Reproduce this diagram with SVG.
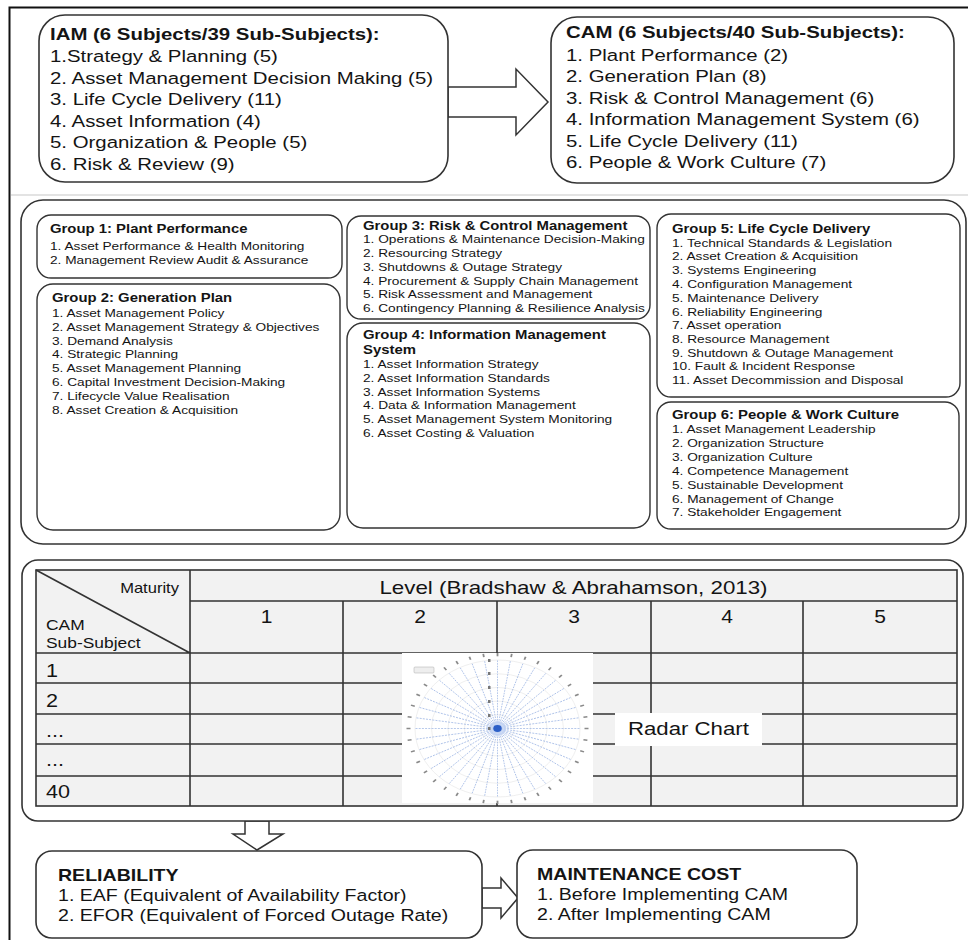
<svg xmlns="http://www.w3.org/2000/svg" width="968" height="940" viewBox="0 0 968 940">
<style>
.f{font-family:"Liberation Sans",Arial,Helvetica,sans-serif;fill:#141414}
.box{fill:#fff;stroke:#333;stroke-width:1.6}
.grp{fill:#fff;stroke:#333;stroke-width:1.4}
.top{font-size:17px}
.gt{font-size:12.4px;font-weight:bold}
.gi{font-size:11.4px}
.bt{font-size:16.3px}
.b{font-weight:bold}
.tl{stroke:#333;stroke-width:1.6;fill:none}
.cell{fill:#f2f2f2}
.arr{fill:#fff;stroke:#333;stroke-width:1.5}
.spoke{stroke:#8eaae0;stroke-width:0.7;stroke-dasharray:2 1.2}
.ring{fill:none;stroke:#e2e2e2;stroke-width:0.6}
</style>
<defs>
<g id="spk"><line class="spoke" x1="0" y1="0" x2="82.5" y2="0"/><rect x="87" y="-0.9" width="4" height="1.8" fill="#8a8a8a"/></g>
</defs>
<rect x="0" y="0" width="968" height="940" fill="#fff"/>
<path d="M9.5 945 V7.5 H968" fill="none" stroke="#111" stroke-width="2"/>
<line x1="11" y1="195" x2="968" y2="195" stroke="#c8c8c8" stroke-width="1.2"/>

<g id="connectors">
<polygon class="arr" points="448,87 516,87 516,69 548,102 516,135 516,117 448,117"/>
<polygon class="arr" points="245,821 269,821 269,834 283,834 257,850 233,834 245,834"/>
<polygon class="arr" points="482,888 501,888 501,878 518,898 501,918 501,908 482,908"/>
</g>

<g id="iam">
<rect class="box" x="39" y="15" width="409" height="167" rx="26"/>
<g class="f top" transform="translate(50 0) scale(1.2 1)">
<text class="b" y="40">IAM (6 Subjects/39 Sub-Subjects):</text>
<text y="62.5">1.Strategy &amp; Planning (5)</text>
<text y="84">2. Asset Management Decision Making (5)</text>
<text y="105.5">3. Life Cycle Delivery (11)</text>
<text y="127">4. Asset Information (4)</text>
<text y="148.5">5. Organization &amp; People (5)</text>
<text y="170">6. Risk &amp; Review (9)</text>
</g>
</g>

<g id="cam">
<rect class="box" x="551" y="17" width="403" height="166" rx="26"/>
<g class="f top" transform="translate(566 0) scale(1.2 1)">
<text class="b" y="38.5">CAM (6 Subjects/40 Sub-Subjects):</text>
<text y="61">1. Plant Performance (2)</text>
<text y="82.5">2. Generation Plan (8)</text>
<text y="104">3. Risk &amp; Control Management (6)</text>
<text y="125.5">4. Information Management System (6)</text>
<text y="147">5. Life Cycle Delivery (11)</text>
<text y="168.5">6. People &amp; Work Culture (7)</text>
</g>
</g>

<g id="groups">
<rect class="box" x="21" y="200" width="945" height="344" rx="22"/>
</g>

<g id="group1">
<rect class="grp" x="37" y="215" width="305" height="63" rx="14"/>
<g class="f" transform="translate(50 0) scale(1.2 1)">
<text class="gt" y="233.5">Group 1: Plant Performance</text>
<text class="gi" y="250">1. Asset Performance &amp; Health Monitoring</text>
<text class="gi" y="264">2. Management Review Audit &amp; Assurance</text>
</g>
</g>

<g id="group2">
<rect class="grp" x="37" y="284" width="303" height="246" rx="16"/>
<g class="f" transform="translate(52 0) scale(1.2 1)">
<text class="gt" y="302">Group 2: Generation Plan</text>
<text class="gi" y="317">1. Asset Management Policy</text>
<text class="gi" y="331">2. Asset Management Strategy &amp; Objectives</text>
<text class="gi" y="345">3. Demand Analysis</text>
<text class="gi" y="358.5">4. Strategic Planning</text>
<text class="gi" y="372.5">5. Asset Management Planning</text>
<text class="gi" y="386.5">6. Capital Investment Decision-Making</text>
<text class="gi" y="400">7. Lifecycle Value Realisation</text>
<text class="gi" y="414">8. Asset Creation &amp; Acquisition</text>
</g>
</g>

<g id="group3">
<rect class="grp" x="347" y="216" width="303" height="103" rx="14"/>
<g class="f" transform="translate(363 0) scale(1.2 1)">
<text class="gt" y="230" font-size="11.4">Group 3: Risk &amp; Control Management</text>
<text class="gi" y="243.5">1. Operations &amp; Maintenance Decision-Making</text>
<text class="gi" y="257.5">2. Resourcing Strategy</text>
<text class="gi" y="271">3. Shutdowns &amp; Outage Strategy</text>
<text class="gi" y="285">4. Procurement &amp; Supply Chain Management</text>
<text class="gi" y="298.5">5. Risk Assessment and Management</text>
<text class="gi" y="312.5">6. Contingency Planning &amp; Resilience Analysis</text>
</g>
</g>

<g id="group4">
<rect class="grp" x="347" y="323" width="303" height="205" rx="16"/>
<g class="f" transform="translate(363 0) scale(1.2 1)">
<text class="gt" y="339">Group 4: Information Management</text>
<text class="gt" y="354">System</text>
<text class="gi" y="368">1. Asset Information Strategy</text>
<text class="gi" y="382">2. Asset Information Standards</text>
<text class="gi" y="396">3. Asset Information Systems</text>
<text class="gi" y="409">4. Data &amp; Information Management</text>
<text class="gi" y="423">5. Asset Management System Monitoring</text>
<text class="gi" y="437">6. Asset Costing &amp; Valuation</text>
</g>
</g>

<g id="group5">
<rect class="grp" x="657" y="214" width="303" height="183" rx="14"/>
<g class="f" transform="translate(672 0) scale(1.2 1)">
<text class="gt" y="233">Group 5: Life Cycle Delivery</text>
<text class="gi" y="247">1. Technical Standards &amp; Legislation</text>
<text class="gi" y="260.5">2. Asset Creation &amp; Acquisition</text>
<text class="gi" y="274.5">3. Systems Engineering</text>
<text class="gi" y="288.5">4. Configuration Management</text>
<text class="gi" y="302">5. Maintenance Delivery</text>
<text class="gi" y="316">6. Reliability Engineering</text>
<text class="gi" y="329.5">7. Asset operation</text>
<text class="gi" y="343.5">8. Resource Management</text>
<text class="gi" y="357">9. Shutdown &amp; Outage Management</text>
<text class="gi" y="370.5">10. Fault &amp; Incident Response</text>
<text class="gi" y="384.5">11. Asset Decommission and Disposal</text>
</g>
</g>

<g id="group6">
<rect class="grp" x="657" y="402" width="302" height="127" rx="14"/>
<g class="f" transform="translate(672 0) scale(1.2 1)">
<text class="gt" y="419">Group 6: People &amp; Work Culture</text>
<text class="gi" y="433.5">1. Asset Management Leadership</text>
<text class="gi" y="447.5">2. Organization Structure</text>
<text class="gi" y="461.5">3. Organization Culture</text>
<text class="gi" y="475">4. Competence Management</text>
<text class="gi" y="489">5. Sustainable Development</text>
<text class="gi" y="503">6. Management of Change</text>
<text class="gi" y="516.5">7. Stakeholder Engagement</text>
</g>
</g>

<g id="maturity-table">
<rect class="box" x="22" y="560" width="941" height="261" rx="16"/>
<rect class="cell" x="36" y="570" width="921" height="236"/>
<rect class="tl" x="36" y="570" width="921" height="236"/>
<path class="tl" d="M190 601 H957 M36 653 H957 M36 683 H957 M36 714 H957 M36 744 H957 M36 776 H957 M190 570 V806 M343 601 V806 M497 601 V806 M651 601 V806 M803 601 V806 M36 570 L190 653"/>
<g class="f">
<text transform="translate(179 593) scale(1.2 1)" text-anchor="end" font-size="13.8">Maturity</text>
<text transform="translate(46 630) scale(1.2 1)" font-size="14.5">CAM</text>
<text transform="translate(46 648) scale(1.2 1)" font-size="14.5">Sub-Subject</text>
<text transform="translate(573.5 594) scale(1.2 1)" text-anchor="middle" font-size="18.6">Level (Bradshaw &amp; Abrahamson, 2013)</text>
<text transform="translate(266.5 623) scale(1.2 1)" text-anchor="middle" font-size="17.5">1</text>
<text transform="translate(420 623) scale(1.2 1)" text-anchor="middle" font-size="17.5">2</text>
<text transform="translate(574 623) scale(1.2 1)" text-anchor="middle" font-size="17.5">3</text>
<text transform="translate(727 623) scale(1.2 1)" text-anchor="middle" font-size="17.5">4</text>
<text transform="translate(880 623) scale(1.2 1)" text-anchor="middle" font-size="17.5">5</text>
<text transform="translate(46 676.5) scale(1.2 1)" font-size="18">1</text>
<text transform="translate(46 706.5) scale(1.2 1)" font-size="18">2</text>
<text transform="translate(46 737) scale(1.2 1)" font-size="18">...</text>
<text transform="translate(46 766) scale(1.2 1)" font-size="18">...</text>
<text transform="translate(46 797.5) scale(1.2 1)" font-size="18">40</text>
</g>
</g>

<g id="radar-chart">
<rect x="402" y="653" width="191" height="150" fill="#fff"/>
<g transform="translate(497.5 728.5) scale(1 0.83)">
<circle class="ring" r="16.5"/><circle class="ring" r="33"/><circle class="ring" r="49.5"/><circle class="ring" r="66"/><circle class="ring" r="82.5"/>
<use href="#spk"/><use href="#spk" transform="rotate(9)"/><use href="#spk" transform="rotate(18)"/><use href="#spk" transform="rotate(27)"/><use href="#spk" transform="rotate(36)"/><use href="#spk" transform="rotate(45)"/><use href="#spk" transform="rotate(54)"/><use href="#spk" transform="rotate(63)"/><use href="#spk" transform="rotate(72)"/><use href="#spk" transform="rotate(81)"/>
<use href="#spk" transform="rotate(90)"/><use href="#spk" transform="rotate(99)"/><use href="#spk" transform="rotate(108)"/><use href="#spk" transform="rotate(117)"/><use href="#spk" transform="rotate(126)"/><use href="#spk" transform="rotate(135)"/><use href="#spk" transform="rotate(144)"/><use href="#spk" transform="rotate(153)"/><use href="#spk" transform="rotate(162)"/><use href="#spk" transform="rotate(171)"/>
<use href="#spk" transform="rotate(180)"/><use href="#spk" transform="rotate(189)"/><use href="#spk" transform="rotate(198)"/><use href="#spk" transform="rotate(207)"/><use href="#spk" transform="rotate(216)"/><use href="#spk" transform="rotate(225)"/><use href="#spk" transform="rotate(234)"/><use href="#spk" transform="rotate(243)"/><use href="#spk" transform="rotate(252)"/><use href="#spk" transform="rotate(261)"/>
<use href="#spk" transform="rotate(270)"/><use href="#spk" transform="rotate(279)"/><use href="#spk" transform="rotate(288)"/><use href="#spk" transform="rotate(297)"/><use href="#spk" transform="rotate(306)"/><use href="#spk" transform="rotate(315)"/><use href="#spk" transform="rotate(324)"/><use href="#spk" transform="rotate(333)"/><use href="#spk" transform="rotate(342)"/><use href="#spk" transform="rotate(351)"/>
<circle r="9" fill="#c3d3f2" opacity="0.8"/>
<circle r="4.2" fill="#2c5fc7"/>
</g>
<g fill="#777"><rect x="488" y="659" width="2.5" height="3"/><rect x="488" y="672" width="2.5" height="3"/><rect x="488" y="686" width="2.5" height="3"/><rect x="488" y="700" width="2.5" height="3"/><rect x="488" y="714" width="2.5" height="3"/><rect x="488" y="727" width="2.5" height="3"/></g>
<rect x="414" y="667" width="20" height="6" rx="1" fill="#eee" stroke="#aaa" stroke-width="0.5"/>
<rect x="615" y="713" width="147" height="33" fill="#fff"/>
<text class="f" transform="translate(628 735) scale(1.2 1)" font-size="18.5">Radar Chart</text>
</g>

<g id="reliability">
<rect class="box" x="36" y="851" width="446" height="87" rx="16"/>
<g class="f bt" transform="translate(58 0) scale(1.2 1)">
<text class="b" y="881">RELIABILITY</text>
<text y="901.5">1. EAF (Equivalent of Availability Factor)</text>
<text y="921">2. EFOR (Equivalent of Forced Outage Rate)</text>
</g>
</g>

<g id="maintenance-cost">
<rect class="box" x="517" y="850" width="340" height="88" rx="16"/>
<g class="f bt" transform="translate(537 0) scale(1.2 1)">
<text class="b" y="880">MAINTENANCE COST</text>
<text y="900.5">1. Before Implementing CAM</text>
<text y="920.5">2. After Implementing CAM</text>
</g>
</g>
</svg>
